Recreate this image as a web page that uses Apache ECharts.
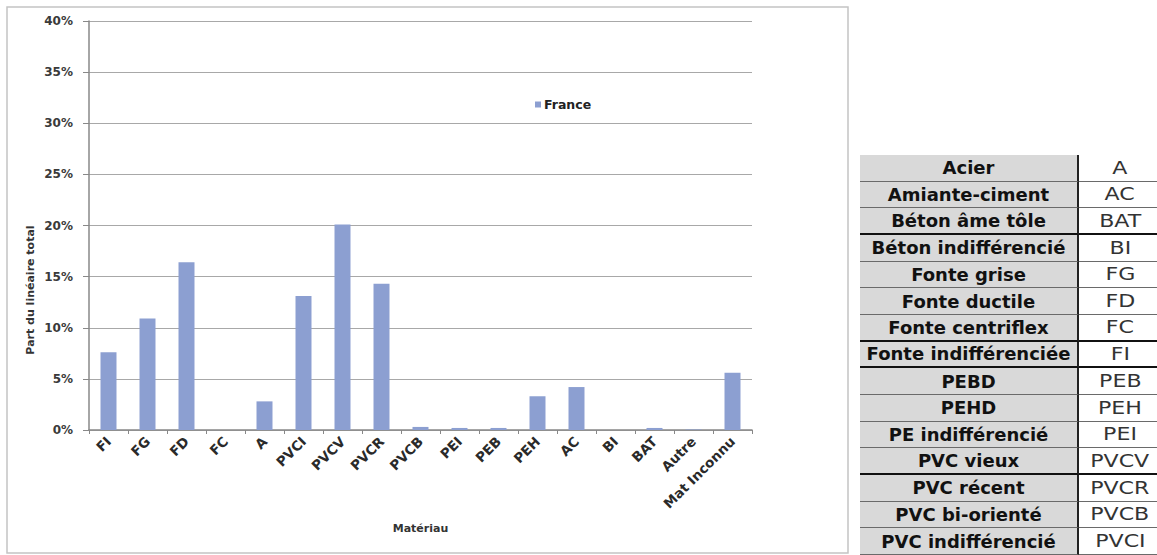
<!DOCTYPE html>
<html>
<head>
<meta charset="utf-8">
<script src="https://cdn.jsdelivr.net/npm/echarts@6/dist/echarts.min.js"></script>
<style>
  html, body { margin: 0; padding: 0; background: #fff; width: 1157px; height: 555px; overflow: hidden; }
  #chart { position: absolute; left: 0; top: 0; width: 852px; height: 555px; }
  #legendTable { position: absolute; left: 860px; top: 155px; width: 301px;
    display: grid; grid-template-columns: 219px 82px; grid-auto-rows: 26.67px; }
  #legendTable div { box-sizing: border-box; border-bottom: 1px solid #6a6a6a;
    display: flex; align-items: center; justify-content: center; white-space: nowrap; overflow: visible; }
  #legendTable .nm { background: #d9d9d9; border-right: 2px solid #222; color: #111;
    font: bold 18px "DejaVu Sans", sans-serif; letter-spacing: 0px; overflow: hidden; }
  #legendTable .cd { background: #fff; color: #333; font: 17px "DejaVu Sans", sans-serif; }
  #legendTable .cd span { display: inline-block; transform: scaleX(1.3); }
  #legendTable .thick { border-bottom: 2px solid #111; }
</style>
</head>
<body>
<div id="chart"></div>
<div id="legendTable"></div>
<script>
// ---- data ----
const categories = ["FI", "FG", "FD", "FC", "A", "PVCI", "PVCV", "PVCR", "PVCB", "PEI", "PEB", "PEH", "AC", "BI", "BAT", "Autre", "Mat Inconnu"];
const franceValues = [7.6, 10.9, 16.4, 0, 2.8, 13.1, 20.1, 14.3, 0.3, 0.2, 0.2, 3.3, 4.2, 0, 0.2, 0.05, 5.6];
const seriesName = "France";
const yAxisTitle = "Part du linéaire total";
const xAxisTitle = "Matériau";
const tableNames = ["Acier", "Amiante-ciment", "Béton âme tôle", "Béton indifférencié", "Fonte grise", "Fonte ductile", "Fonte centriflex", "Fonte indifférenciée", "PEBD", "PEHD", "PE indifférencié", "PVC vieux", "PVC récent", "PVC bi-orienté", "PVC indifférencié"];
const tableCodes = ["A", "AC", "BAT", "BI", "FG", "FD", "FC", "FI", "PEB", "PEH", "PEI", "PVCV", "PVCR", "PVCB", "PVCI"];
const thickAfter = [2, 6, 7, 11];

// ---- table ----
const tbl = document.getElementById('legendTable');
tableNames.forEach((n, i) => {
  const a = document.createElement('div');
  a.className = 'nm' + (thickAfter.includes(i) ? ' thick' : '');
  a.textContent = n;
  const b = document.createElement('div');
  b.className = 'cd' + (thickAfter.includes(i) ? ' thick' : '');
  const s = document.createElement('span');
  s.textContent = tableCodes[i];
  b.appendChild(s);
  tbl.appendChild(a); tbl.appendChild(b);
});

// ---- chart ----
const chart = echarts.init(document.getElementById('chart'), null, { renderer: 'svg' });
const FONT = '"DejaVu Sans", sans-serif';
chart.setOption({
  animation: false,
  backgroundColor: '#fff',
  graphic: [
    { type: 'rect', shape: { x: 7, y: 7, width: 841, height: 546 },
      style: { fill: 'none', stroke: '#c4c4c4', lineWidth: 1.5 }, z: -1 },
    { type: 'text', x: 30, y: 290, rotation: Math.PI / 2,
      style: { text: yAxisTitle, fill: '#333', font: 'bold 11px ' + FONT, align: 'center', verticalAlign: 'middle' } }
  ],
  legend: {
    left: 530, top: 93, itemWidth: 6, itemHeight: 6, itemGap: 4,
    icon: 'rect',
    textStyle: { fontFamily: FONT, fontWeight: 'bold', fontSize: 12.5, color: '#222', padding: [0, 0, 0, -2] },
    data: [seriesName]
  },
  grid: { left: 89, top: 21, width: 663, height: 409, containLabel: false },
  xAxis: {
    type: 'category',
    data: categories,
    name: xAxisTitle,
    nameLocation: 'middle',
    nameGap: 93,
    nameTextStyle: { fontFamily: FONT, fontWeight: 'bold', fontSize: 11, color: '#333' },
    axisLine: { lineStyle: { color: '#888', width: 1.5 } },
    axisTick: { show: true, alignWithLabel: false, length: 4, lineStyle: { color: '#888' } },
    axisLabel: { interval: 0, rotate: 45, margin: 9, fontFamily: FONT, fontWeight: 'bold', fontSize: 13.5, color: '#2a2a2a' }
  },
  yAxis: {
    type: 'value',
    min: 0, max: 40, interval: 5,
    axisLine: { show: true, lineStyle: { color: '#888', width: 1.5 } },
    axisTick: { show: true, length: 6, lineStyle: { color: '#888' } },
    axisLabel: { formatter: '{value}%', margin: 16, fontFamily: FONT, fontWeight: 'bold', fontSize: 12, color: '#3a3a3a' },
    splitLine: { lineStyle: { color: '#a8a8a8', width: 1 } }
  },
  series: [{
    name: seriesName,
    type: 'bar',
    data: franceValues,
    barWidth: '41%',
    itemStyle: { color: '#8c9fd1' }
  }]
});
</script>
</body>
</html>
